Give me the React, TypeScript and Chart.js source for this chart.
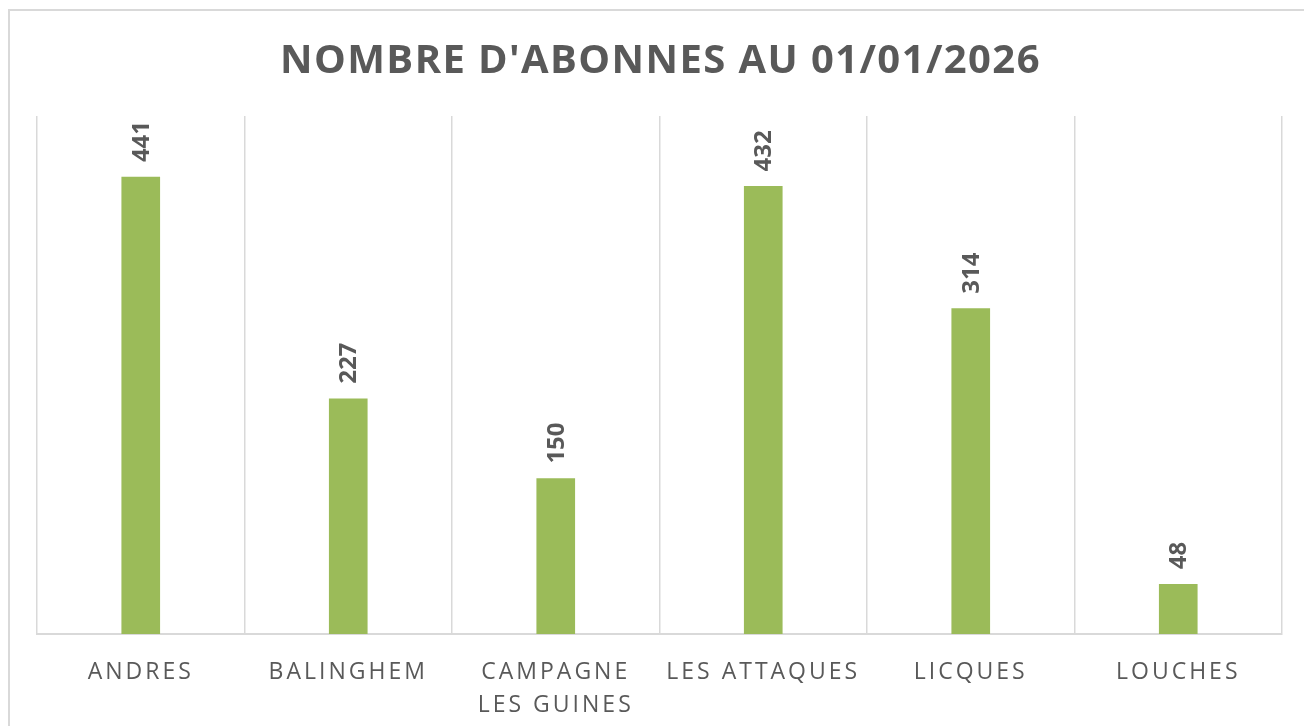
import React, { useEffect, useRef } from "react";
import { Chart, registerables } from "chart.js";

Chart.register(...registerables);

const categories: (string | string[])[] = [
  "ANDRES",
  "BALINGHEM",
  ["CAMPAGNE", "LES GUINES"],
  "LES ATTAQUES",
  "LICQUES",
  "LOUCHES",
];
const subscribers: number[] = [441, 227, 150, 432, 314, 48];
const titleText = "NOMBRE D'ABONNES AU 01/01/2026";
const yMin = 0;
const yMax = 500;

const TEXT = "#595959";
const BAR = "#9BBB59";
const GRID = "#d9d9d9";
const FONT = "'Open Sans', 'Noto Sans', sans-serif";

const spacingPlugin = {
  id: "spacing",
  beforeDraw(chart: any) {
    chart.ctx.letterSpacing = "3px";
  },
};

const dataLabelPlugin = {
  id: "dataLabels",
  afterDatasetsDraw(chart: any) {
    const ctx = chart.ctx;
    const meta = chart.getDatasetMeta(0);
    ctx.save();
    ctx.letterSpacing = "0px";
    ctx.fillStyle = TEXT;
    ctx.font = `bold 24px ${FONT}`;
    ctx.textAlign = "left";
    ctx.textBaseline = "middle";
    meta.data.forEach((bar: any, i: number) => {
      const v = chart.data.datasets[0].data[i];
      ctx.save();
      ctx.translate(bar.x, bar.y - 15);
      ctx.rotate(-Math.PI / 2);
      ctx.fillText(String(v), 0, 1);
      ctx.restore();
    });
    ctx.restore();
  },
};

const titlePlugin = {
  id: "customTitle",
  afterDraw(chart: any) {
    const ctx = chart.ctx;
    const area = chart.chartArea;
    ctx.save();
    ctx.letterSpacing = "1.4px";
    ctx.fillStyle = TEXT;
    ctx.font = `bold 40px ${FONT}`;
    ctx.textAlign = "center";
    ctx.textBaseline = "alphabetic";
    ctx.fillText(titleText, (area.left + area.right) / 2 + 1, 62);
    ctx.restore();
  },
};

export default function App() {
  const ref = useRef<HTMLCanvasElement | null>(null);
  useEffect(() => {
    if (!ref.current) return;
    const chart = new Chart(ref.current, {
      type: "bar",
      data: {
        labels: categories,
        datasets: [
          {
            data: subscribers,
            backgroundColor: BAR,
            borderWidth: 0,
            barThickness: 38,
          },
        ],
      },
      options: {
        animation: false,
        responsive: false,
        maintainAspectRatio: false,
        layout: { padding: { left: 27, right: 22, top: 105, bottom: 0 } },
        plugins: {
          legend: { display: false },
          title: { display: false },
          tooltip: { enabled: false },
        },
        scales: {
          x: {
            offset: true,
            grid: {
              display: true,
              color: GRID,
              lineWidth: 1.5,
              drawTicks: false,
              offset: true,
            },
            border: { display: true, color: GRID, width: 2 },
            ticks: {
              color: TEXT,
              font: { family: FONT, size: 23, lineHeight: 1.42 },
              padding: 22,
              maxRotation: 0,
              minRotation: 0,
              autoSkip: false,
            },
            afterFit: (scale: any) => {
              scale.height = 92;
            },
          },
          y: {
            display: false,
            min: yMin,
            max: yMax,
          },
        },
      },
      plugins: [spacingPlugin, dataLabelPlugin, titlePlugin],
    });
    return () => chart.destroy();
  }, []);

  return (
    <div
      style={{
        position: "fixed",
        left: 8,
        top: 9,
        width: 1294,
        height: 715,
        borderTop: `2px solid ${GRID}`,
        borderLeft: `2px solid ${GRID}`,
        overflow: "hidden",
      }}
    >
      <canvas ref={ref} width={1294} height={715} style={{ display: "block" }} />
    </div>
  );
}
